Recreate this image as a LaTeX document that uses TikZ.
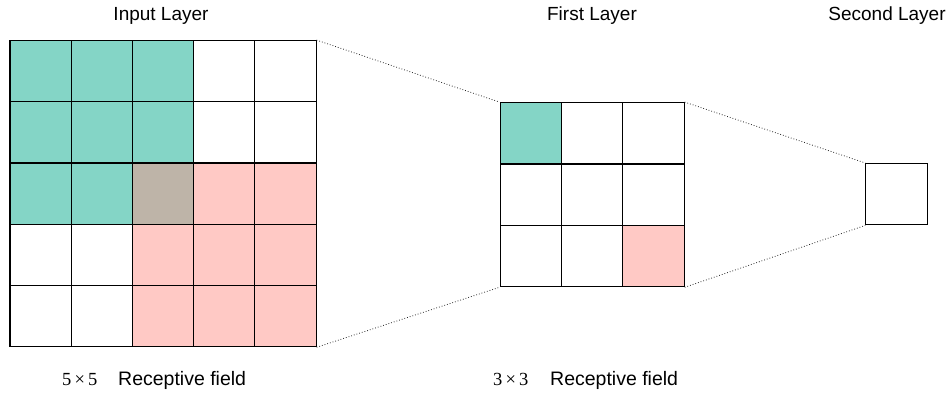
\documentclass[tikz,border=0pt]{standalone}
\usepackage{fontspec}
\setmainfont{Liberation Sans}
\newfontfamily\numfont{Liberation Serif}
\definecolor{fieldgreen}{RGB}{132,213,198}
\definecolor{fieldpink}{RGB}{255,201,197}
\definecolor{fieldmix}{RGB}{190,180,168}
\begin{document}
\begin{tikzpicture}[x=1pt, y=-1pt,
		cell/.style = {draw, minimum size=61.3pt, inner sep=0pt, line width=1.1pt},
		link/.style = {dotted, line width=0.8pt, black!85},
		title/.style = {anchor=base, font=\fontsize{19}{23}\selectfont},
		caption/.style = {anchor=base west, inner sep=0pt, font=\fontsize{19.5}{23}\selectfont},
		dims/.style = {anchor=base west, inner sep=0pt, font=\numfont\fontsize{18.5}{22}\selectfont}]
	\useasboundingbox (0,0) rectangle (947,395);
	% input layer, 5x5
	\foreach \r in {0,...,4}{
		\foreach \c in {0,...,4}{
			\def\cellcol{white}
			\ifnum\r<3 \ifnum\c<3 \def\cellcol{fieldgreen}\fi\fi
			\ifnum\r>1 \ifnum\c>1 \def\cellcol{fieldpink}\fi\fi
			\ifnum\r=2 \ifnum\c=2 \def\cellcol{fieldmix}\fi\fi
			\node[cell, fill=\cellcol] (in\r\c) at ({40.6+61.2*\c},{71.3+61.2*\r}) {};
		}
	}
	% first layer, 3x3
	\foreach \r in {0,...,2}{
		\foreach \c in {0,...,2}{
			\def\cellcol{white}
			\ifnum\r=0 \ifnum\c=0 \def\cellcol{fieldgreen}\fi\fi
			\ifnum\r=2 \ifnum\c=2 \def\cellcol{fieldpink}\fi\fi
			\node[cell, fill=\cellcol] (fl\r\c) at ({530.7+61.4*\c},{133.3+61.4*\r}) {};
		}
	}
	% second layer
	\node[cell] (sl) at (896.5,194.2) {};
	\draw[link] (in04.north east) -- (fl00.north west);
	\draw[link] (in44.south east) -- (fl20.south west);
	\draw[link] (fl02.north east) -- (sl.north west);
	\draw[link] (fl22.south east) -- (sl.south west);
	% labels
	\node[title] (tin) at (161,20.7) {Input Layer};
	\node[title] (tfl) at (592,20.7) {First Layer};
	\node[title] (tsl) at (887,20.7) {Second Layer};
	\node[dims] (din) at (62,385) {5\,×\,5};
	\node[caption] (cin) at (118,385) {Receptive field};
	\node[dims] (dfl) at (493,385) {3\,×\,3};
	\node[caption] (cfl) at (550,385) {Receptive field};
\end{tikzpicture}
\end{document}
